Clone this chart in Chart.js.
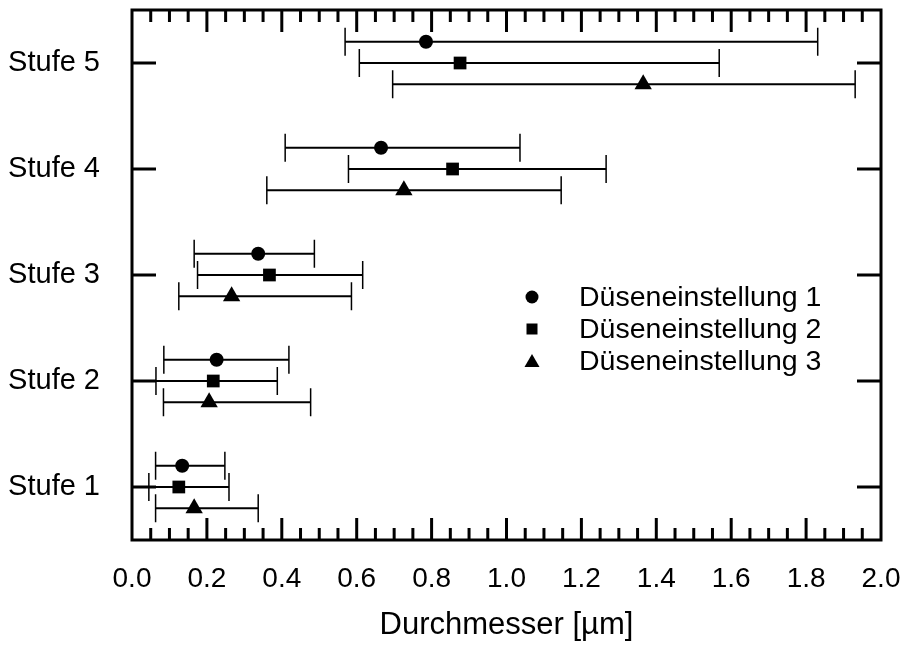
<!DOCTYPE html>
<html>
<head>
<meta charset="utf-8">
<script src="https://cdn.jsdelivr.net/npm/chart.js@4/dist/chart.umd.min.js"></script>
<style>
  html, body { margin: 0; background: #fff; }
  #wrap { width: 904px; height: 646px; }
</style>
</head>
<body>
<div id="wrap"><canvas id="chart" width="904" height="646"></canvas></div>
<script>
// Stufen (y categories) and series names
const categories = ['Stufe 1', 'Stufe 2', 'Stufe 3', 'Stufe 4', 'Stufe 5'];
const seriesNames = ['Düseneinstellung 1', 'Düseneinstellung 2', 'Düseneinstellung 3'];

// Düseneinstellung 1 (circle)
const d1Mean = [0.134, 0.226, 0.337, 0.665, 0.785];
const d1Low  = [0.063, 0.085, 0.166, 0.409, 0.569];
const d1High = [0.248, 0.419, 0.487, 1.036, 1.831];
// Düseneinstellung 2 (square)
const d2Mean = [0.125, 0.217, 0.367, 0.856, 0.876];
const d2Low  = [0.045, 0.064, 0.175, 0.578, 0.607];
const d2High = [0.259, 0.388, 0.616, 1.266, 1.568];
// Düseneinstellung 3 (triangle)
const d3Mean = [0.166, 0.206, 0.266, 0.726, 1.365];
const d3Low  = [0.063, 0.084, 0.125, 0.360, 0.696];
const d3High = [0.337, 0.477, 0.586, 1.146, 1.931];

const FONT = "'Liberation Sans', Arial, sans-serif";

function makeSeries(mean, low, high, shift) {
    return mean.map((v, i) => ({ x: v, y: i + 1 + shift, lo: low[i], hi: high[i] }));
}

const errorBars = {
    id: 'errorBars',
    beforeDatasetsDraw(chart) {
        const ctx = chart.ctx;
        const xs = chart.scales.x, ys = chart.scales.y;
        ctx.save();
        ctx.strokeStyle = '#000';
        chart.data.datasets.forEach(ds => {
            ds.data.forEach(p => {
                const y = ys.getPixelForValue(p.y);
                const x1 = xs.getPixelForValue(p.lo);
                const x2 = xs.getPixelForValue(p.hi);
                ctx.lineWidth = 2;
                ctx.beginPath();
                ctx.moveTo(x1, y); ctx.lineTo(x2, y);
                ctx.stroke();
                ctx.lineWidth = 1.5;
                ctx.beginPath();
                ctx.moveTo(x1, y - 14); ctx.lineTo(x1, y + 14);
                ctx.moveTo(x2, y - 14); ctx.lineTo(x2, y + 14);
                ctx.stroke();
            });
        });
        ctx.restore();
    }
};

// frame with inward ticks on all four sides
const frame = {
    id: 'frame',
    afterDraw(chart) {
        const ctx = chart.ctx;
        const a = chart.chartArea;
        const xs = chart.scales.x, ys = chart.scales.y;
        ctx.save();
        ctx.strokeStyle = '#000';
        ctx.lineWidth = 3;
        ctx.strokeRect(a.left, a.top, a.right - a.left, a.bottom - a.top);
        ctx.beginPath();
        for (let k = 1; k < 40; k++) {
            const x = xs.getPixelForValue(k * 0.05);
            const len = k % 4 === 0 ? 22 : 12;
            ctx.moveTo(x, a.bottom); ctx.lineTo(x, a.bottom - len);
            ctx.moveTo(x, a.top); ctx.lineTo(x, a.top + len);
        }
        categories.forEach((c, i) => {
            const y = ys.getPixelForValue(i + 1);
            ctx.moveTo(a.left, y); ctx.lineTo(a.left + 24, y);
            ctx.moveTo(a.right, y); ctx.lineTo(a.right - 24, y);
        });
        ctx.stroke();
        ctx.restore();
    }
};

const legendBox = {
    id: 'legendBox',
    afterDraw(chart) {
        const ctx = chart.ctx;
        ctx.save();
        ctx.fillStyle = '#000';
        ctx.font = '28.5px ' + FONT;
        ctx.textBaseline = 'middle';
        const rows = [297, 329, 361];
        chart.data.datasets.forEach((ds, i) => {
            const mx = 532, my = rows[i];
            ctx.beginPath();
            if (ds.pointStyle === 'circle') {
                ctx.arc(mx, my, 6.5, 0, Math.PI * 2);
            } else if (ds.pointStyle === 'rect') {
                ctx.rect(mx - 5.5, my - 5.5, 11, 11);
            } else {
                ctx.moveTo(mx, my - 7);
                ctx.lineTo(mx + 7.5, my + 6);
                ctx.lineTo(mx - 7.5, my + 6);
                ctx.closePath();
            }
            ctx.fill();
            ctx.fillText(ds.label, 579, my + 1);
        });
        ctx.restore();
    }
};

new Chart(document.getElementById('chart'), {
    type: 'scatter',
    data: {
        datasets: [
            { label: seriesNames[0], data: makeSeries(d1Mean, d1Low, d1High, 0.2),
              pointStyle: 'circle', pointRadius: 7 },
            { label: seriesNames[1], data: makeSeries(d2Mean, d2Low, d2High, 0),
              pointStyle: 'rect', pointRadius: 9 },
            { label: seriesNames[2], data: makeSeries(d3Mean, d3Low, d3High, -0.2),
              pointStyle: 'triangle', pointRadius: 10 }
        ].map(ds => Object.assign(ds, {
            backgroundColor: '#000', borderColor: '#000', borderWidth: 0, pointHoverRadius: ds.pointRadius
        }))
    },
    options: {
        responsive: false,
        animation: false,
        layout: { padding: { left: 0, right: 23, top: 10, bottom: 0 } },
        plugins: { legend: { display: false }, tooltip: { enabled: false } },
        scales: {
            x: {
                type: 'linear', min: 0, max: 2,
                grid: { display: false }, border: { display: false },
                ticks: {
                    stepSize: 0.2, color: '#000', padding: 14,
                    font: { family: FONT, size: 28 },
                    callback: v => v.toFixed(1)
                },
                title: {
                    display: true, text: 'Durchmesser [µm]', color: '#000',
                    font: { family: FONT, size: 31 }, padding: { top: 2, bottom: 2 }
                },
                afterFit(scale) {
                    scale.height = 106;
                    scale.paddingLeft = 0;
                    scale.paddingRight = 0;
                }
            },
            y: {
                type: 'linear', min: 0.5, max: 5.5,
                grid: { display: false }, border: { display: false },
                ticks: {
                    color: '#000', padding: 24,
                    font: { family: FONT, size: 29 },
                    callback: v => categories[v - 1]
                },
                afterBuildTicks(scale) {
                    scale.ticks = categories.map((c, i) => ({ value: i + 1 }));
                },
                afterFit(scale) {
                    scale.width = 132;
                    scale.paddingTop = 0;
                    scale.paddingBottom = 0;
                }
            }
        }
    },
    plugins: [errorBars, frame, legendBox]
});
</script>
</body>
</html>
